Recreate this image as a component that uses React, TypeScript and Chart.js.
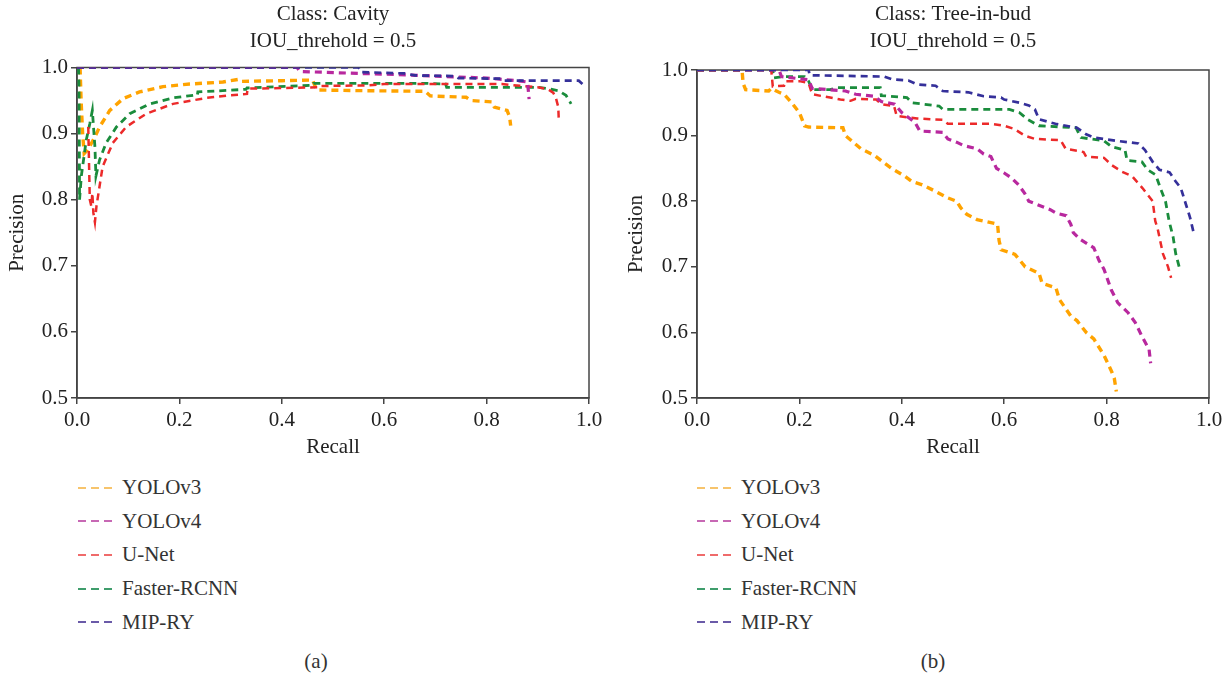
import React, { useEffect, useRef } from 'react';
import { Chart, registerables } from 'chart.js';

Chart.register(...registerables);

type Pt = [number, number];

const SERIES_NAMES = ['YOLOv3', 'YOLOv4', 'U-Net', 'Faster-RCNN', 'MIP-RY'];
const LINE_COLORS = ['#ffa300', '#b8289e', '#ec2a2a', '#1a8c3c', '#35309a'];
const LEGEND_COLORS = ['#f7c46c', '#c768b4', '#ef6b6b', '#3f9d6c', '#6a5aa8'];
const LINE_WIDTHS = [3.4, 3.2, 2.5, 2.8, 2.7];
const X_TICKS = [0, 0.2, 0.4, 0.6, 0.8, 1.0];
const Y_TICKS = [0.5, 0.6, 0.7, 0.8, 0.9, 1.0];
const TITLES_A = ['Class: Cavity', 'IOU_threhold = 0.5'];
const TITLES_B = ['Class: Tree-in-bud', 'IOU_threhold = 0.5'];
const X_LABEL = 'Recall';
const Y_LABEL = 'Precision';

// ---- (a) Cavity : [recall, precision]
const cavityYolov3: Pt[] = [
  [0.006, 1.0], [0.008, 0.95], [0.011, 0.9], [0.014, 0.87], [0.02, 0.875], [0.028, 0.885],
  [0.035, 0.895], [0.044, 0.91], [0.064, 0.935], [0.09, 0.953], [0.122, 0.963], [0.168, 0.971],
  [0.22, 0.975], [0.285, 0.978], [0.315, 0.982], [0.32, 0.979], [0.4, 0.98], [0.46, 0.981],
  [0.468, 0.966], [0.55, 0.965], [0.68, 0.964], [0.69, 0.957], [0.76, 0.955], [0.77, 0.95],
  [0.81, 0.948], [0.815, 0.94], [0.84, 0.935], [0.845, 0.925], [0.847, 0.912],
];
const cavityYolov4: Pt[] = [
  [0.0, 1.0], [0.43, 1.0], [0.435, 0.994], [0.55, 0.991], [0.6, 0.99], [0.7, 0.987],
  [0.8, 0.984], [0.86, 0.98], [0.88, 0.978], [0.883, 0.952],
];
const cavityUnet: Pt[] = [
  [0.022, 0.91], [0.025, 0.8], [0.028, 0.79], [0.03, 0.81], [0.032, 0.78], [0.035, 0.766],
  [0.038, 0.79], [0.042, 0.81], [0.05, 0.85], [0.07, 0.886], [0.096, 0.91], [0.135, 0.93],
  [0.1875, 0.945], [0.253, 0.954], [0.3, 0.958], [0.332, 0.96], [0.333, 0.968], [0.47, 0.97],
  [0.472, 0.972], [0.57, 0.973], [0.6, 0.975], [0.83, 0.975], [0.87, 0.972], [0.9, 0.97],
  [0.92, 0.967], [0.93, 0.962], [0.935, 0.955], [0.94, 0.94], [0.941, 0.92],
];
const cavityFaster: Pt[] = [
  [0.003, 1.0], [0.004, 0.97], [0.005, 0.8], [0.0085, 0.836], [0.018, 0.89], [0.025, 0.915],
  [0.03, 0.935], [0.035, 0.88], [0.037, 0.836], [0.044, 0.86], [0.057, 0.886], [0.077, 0.91],
  [0.103, 0.93], [0.142, 0.945], [0.1875, 0.954], [0.227, 0.958], [0.235, 0.958], [0.236, 0.963],
  [0.33, 0.967], [0.332, 0.969], [0.46, 0.973], [0.462, 0.976], [0.68, 0.976], [0.72, 0.975],
  [0.722, 0.97], [0.9, 0.97], [0.92, 0.968], [0.94, 0.965], [0.955, 0.958], [0.965, 0.945],
];
const cavityMipry: Pt[] = [
  [0.0, 1.0], [0.55, 1.0], [0.555, 0.993], [0.64, 0.991], [0.66, 0.988], [0.74, 0.987],
  [0.745, 0.984], [0.83, 0.983], [0.835, 0.98], [0.98, 0.98], [0.99, 0.973],
];

// ---- (b) Tree-in-bud : [recall, precision]
const treeYolov3: Pt[] = [
  [0.0, 1.0], [0.088, 1.0], [0.09, 0.98], [0.095, 0.97], [0.14, 0.968], [0.145, 0.972],
  [0.16, 0.966], [0.17, 0.963], [0.185, 0.95], [0.2, 0.935], [0.21, 0.915], [0.218, 0.913],
  [0.285, 0.912], [0.29, 0.9], [0.305, 0.89], [0.32, 0.88], [0.346, 0.87], [0.366, 0.858],
  [0.38, 0.85], [0.406, 0.838], [0.42, 0.83], [0.44, 0.825], [0.466, 0.815], [0.49, 0.805],
  [0.507, 0.8], [0.515, 0.79], [0.527, 0.78], [0.547, 0.772], [0.587, 0.765], [0.59, 0.74],
  [0.594, 0.726], [0.621, 0.719], [0.641, 0.7], [0.668, 0.69], [0.674, 0.675], [0.701, 0.668],
  [0.708, 0.65], [0.73, 0.625], [0.742, 0.618], [0.76, 0.6], [0.775, 0.59], [0.795, 0.565],
  [0.81, 0.54], [0.815, 0.53], [0.819, 0.51],
];
const treeYolov4: Pt[] = [
  [0.0, 1.0], [0.16, 1.0], [0.165, 0.99], [0.218, 0.985], [0.225, 0.972], [0.29, 0.968],
  [0.31, 0.963], [0.346, 0.96], [0.36, 0.952], [0.386, 0.948], [0.4, 0.935], [0.426, 0.92],
  [0.435, 0.907], [0.48, 0.905], [0.49, 0.895], [0.507, 0.89], [0.52, 0.885], [0.547, 0.88],
  [0.56, 0.872], [0.574, 0.868], [0.585, 0.85], [0.6, 0.843], [0.615, 0.835], [0.628, 0.825],
  [0.64, 0.812], [0.648, 0.8], [0.674, 0.792], [0.69, 0.787], [0.701, 0.782], [0.721, 0.778],
  [0.73, 0.765], [0.735, 0.752], [0.748, 0.742], [0.775, 0.729], [0.785, 0.71], [0.795, 0.696],
  [0.809, 0.665], [0.822, 0.645], [0.842, 0.63], [0.856, 0.615], [0.869, 0.594], [0.883, 0.574],
  [0.886, 0.553],
];
const treeUnet: Pt[] = [
  [0.0, 1.0], [0.145, 1.0], [0.148, 0.975], [0.17, 0.976], [0.172, 0.983], [0.2, 0.983],
  [0.218, 0.98], [0.225, 0.963], [0.26, 0.958], [0.28, 0.955], [0.3, 0.953], [0.31, 0.956],
  [0.35, 0.955], [0.36, 0.948], [0.385, 0.945], [0.39, 0.93], [0.43, 0.926], [0.48, 0.924],
  [0.49, 0.918], [0.575, 0.918], [0.6, 0.915], [0.62, 0.91], [0.64, 0.9], [0.66, 0.895],
  [0.71, 0.893], [0.72, 0.88], [0.755, 0.875], [0.76, 0.868], [0.795, 0.866], [0.81, 0.855],
  [0.83, 0.845], [0.85, 0.838], [0.87, 0.82], [0.89, 0.8], [0.895, 0.77], [0.9, 0.757],
  [0.91, 0.72], [0.92, 0.7], [0.926, 0.683],
];
const treeFaster: Pt[] = [
  [0.0, 1.0], [0.148, 1.0], [0.15, 0.988], [0.17, 0.99], [0.21, 0.99], [0.218, 0.983],
  [0.225, 0.97], [0.26, 0.97], [0.272, 0.973], [0.358, 0.973], [0.36, 0.961], [0.41, 0.958],
  [0.42, 0.95], [0.473, 0.945], [0.48, 0.94], [0.61, 0.94], [0.63, 0.935], [0.645, 0.925],
  [0.668, 0.915], [0.74, 0.912], [0.75, 0.897], [0.795, 0.892], [0.81, 0.883], [0.836, 0.878],
  [0.84, 0.862], [0.869, 0.86], [0.88, 0.848], [0.896, 0.84], [0.905, 0.82], [0.915, 0.8],
  [0.922, 0.77], [0.93, 0.745], [0.935, 0.72], [0.943, 0.696],
];
const treeMipry: Pt[] = [
  [0.0, 1.0], [0.218, 1.0], [0.22, 0.992], [0.366, 0.99], [0.38, 0.986], [0.413, 0.984],
  [0.43, 0.978], [0.466, 0.976], [0.48, 0.968], [0.53, 0.966], [0.56, 0.96], [0.594, 0.958],
  [0.6, 0.955], [0.63, 0.95], [0.648, 0.946], [0.66, 0.94], [0.668, 0.925], [0.7, 0.918],
  [0.742, 0.912], [0.76, 0.902], [0.775, 0.897], [0.82, 0.892], [0.862, 0.888], [0.875, 0.878],
  [0.89, 0.86], [0.903, 0.848], [0.923, 0.844], [0.935, 0.83], [0.945, 0.82], [0.955, 0.795],
  [0.963, 0.775], [0.97, 0.752],
];

const SERIES_A = [cavityYolov3, cavityYolov4, cavityUnet, cavityFaster, cavityMipry];
const SERIES_B = [treeYolov3, treeYolov4, treeUnet, treeFaster, treeMipry];

const FONT = "'Liberation Serif', 'DejaVu Serif', serif";
const TEXT = '#222';
const FS = 21;

const framePlugin = {
  id: 'frame',
  beforeDatasetsDraw(chart: any) {
    const { ctx, chartArea } = chart;
    const { left, top, right, bottom } = chartArea;
    ctx.save();
    ctx.strokeStyle = '#444';
    ctx.lineWidth = 1.5;
    ctx.strokeRect(left, top, right - left, bottom - top);
    ctx.restore();
  },
};

const titlePlugin = {
  id: 'twoLineTitle',
  afterDraw(chart: any, _args: any, opts: any) {
    const { ctx, chartArea } = chart;
    const cx = (chartArea.left + chartArea.right) / 2;
    ctx.save();
    ctx.fillStyle = TEXT;
    ctx.font = `${FS}px ${FONT}`;
    ctx.textAlign = 'center';
    ctx.textBaseline = 'middle';
    (opts.lines || []).forEach((t: string, i: number) => {
      ctx.fillText(t, cx, opts.y0 + i * opts.dy);
    });
    ctx.restore();
  },
};

interface PanelProps {
  left: number;
  width: number;
  height: number;
  padTop: number;
  padRight: number;
  yWidth: number;
  xHeight: number;
  titles: string[];
  series: Pt[][];
}

function PRChart(p: PanelProps) {
  const ref = useRef<HTMLCanvasElement>(null);
  useEffect(() => {
    if (!ref.current) return;
    const order = [4, 1, 2, 3, 0];
    const datasets = order.map((i) => ({
      label: SERIES_NAMES[i],
      data: p.series[i].map(([x, y]) => ({ x, y })),
      borderColor: LINE_COLORS[i],
      backgroundColor: LINE_COLORS[i],
      borderWidth: LINE_WIDTHS[i],
      borderDash: [7, 5],
      pointRadius: 0,
      tension: 0,
      fill: false,
    }));
    const tickFont = { family: FONT, size: FS };
    const chart = new Chart(ref.current, {
      type: 'line',
      data: { datasets },
      plugins: [framePlugin, titlePlugin],
      options: {
        animation: false,
        responsive: false,
        devicePixelRatio: 1,
        layout: { padding: { top: p.padTop, right: p.padRight, left: 3, bottom: 0 } },
        plugins: {
          legend: { display: false },
          tooltip: { enabled: false },
          twoLineTitle: { lines: p.titles, y0: 14, dy: 27 },
        } as any,
        scales: {
          x: {
            type: 'linear',
            min: 0,
            max: 1,
            afterBuildTicks: (s: any) => { s.ticks = X_TICKS.map((v) => ({ value: v })); },
            afterFit: (s: any) => { s.height = p.xHeight; },
            ticks: { font: tickFont, color: TEXT, padding: 4, callback: (v: any) => Number(v).toFixed(1), maxRotation: 0 },
            grid: { drawOnChartArea: false, drawTicks: true, tickLength: 6, color: '#444', lineWidth: 1.5 },
            border: { display: true, color: '#444', width: 1.5 },
            title: { display: true, text: X_LABEL, font: { family: FONT, size: FS }, color: TEXT, padding: { top: 0, bottom: 1 } },
          },
          y: {
            type: 'linear',
            min: 0.5,
            max: 1,
            afterBuildTicks: (s: any) => { s.ticks = Y_TICKS.map((v) => ({ value: v })); },
            afterFit: (s: any) => { s.width = p.yWidth; },
            ticks: { font: tickFont, color: TEXT, padding: 3, callback: (v: any) => Number(v).toFixed(1) },
            grid: { drawOnChartArea: false, drawTicks: true, tickLength: 6, color: '#444', lineWidth: 1.5 },
            border: { display: true, color: '#444', width: 1.5 },
            title: { display: true, text: Y_LABEL, font: { family: FONT, size: FS }, color: TEXT, padding: { top: 2, bottom: 2 } },
          },
        },
      } as any,
    });
    return () => chart.destroy();
  }, []);
  return (
    <canvas
      ref={ref}
      width={p.width}
      height={p.height}
      style={{ position: 'absolute', left: p.left, top: 0, width: p.width, height: p.height }}
    />
  );
}

function Legend({ left, top }: { left: number; top: number }) {
  return (
    <div style={{ position: 'absolute', left, top }}>
      {SERIES_NAMES.map((name, i) => (
        <div key={name} style={{ display: 'flex', alignItems: 'center', height: 33.6 }}>
          <svg width={36} height={6} style={{ marginRight: 9 }}>
            <line x1={1} y1={3} x2={35} y2={3} stroke={LEGEND_COLORS[i]} strokeWidth={2} strokeDasharray="8 5" />
          </svg>
          <span style={{ fontFamily: FONT, fontSize: FS, color: '#333', lineHeight: '21px' }}>{name}</span>
        </div>
      ))}
    </div>
  );
}

export default function App() {
  return (
    <div style={{ position: 'absolute', left: 0, top: 0, width: 1229, height: 678, background: '#fff', overflow: 'hidden' }}>
      <PRChart left={0} width={614} height={461} padTop={67.5} padRight={25} yWidth={74} xHeight={63} titles={TITLES_A} series={SERIES_A} />
      <PRChart left={619} width={610} height={461} padTop={70} padRight={20} yWidth={75} xHeight={63} titles={TITLES_B} series={SERIES_B} />
      <Legend left={77} top={471} />
      <Legend left={696} top={471} />
      <div style={{ position: 'absolute', left: 296, top: 649, width: 40, textAlign: 'center', fontFamily: FONT, fontSize: FS, color: '#333' }}>(a)</div>
      <div style={{ position: 'absolute', left: 913, top: 649, width: 40, textAlign: 'center', fontFamily: FONT, fontSize: FS, color: '#333' }}>(b)</div>
    </div>
  );
}
